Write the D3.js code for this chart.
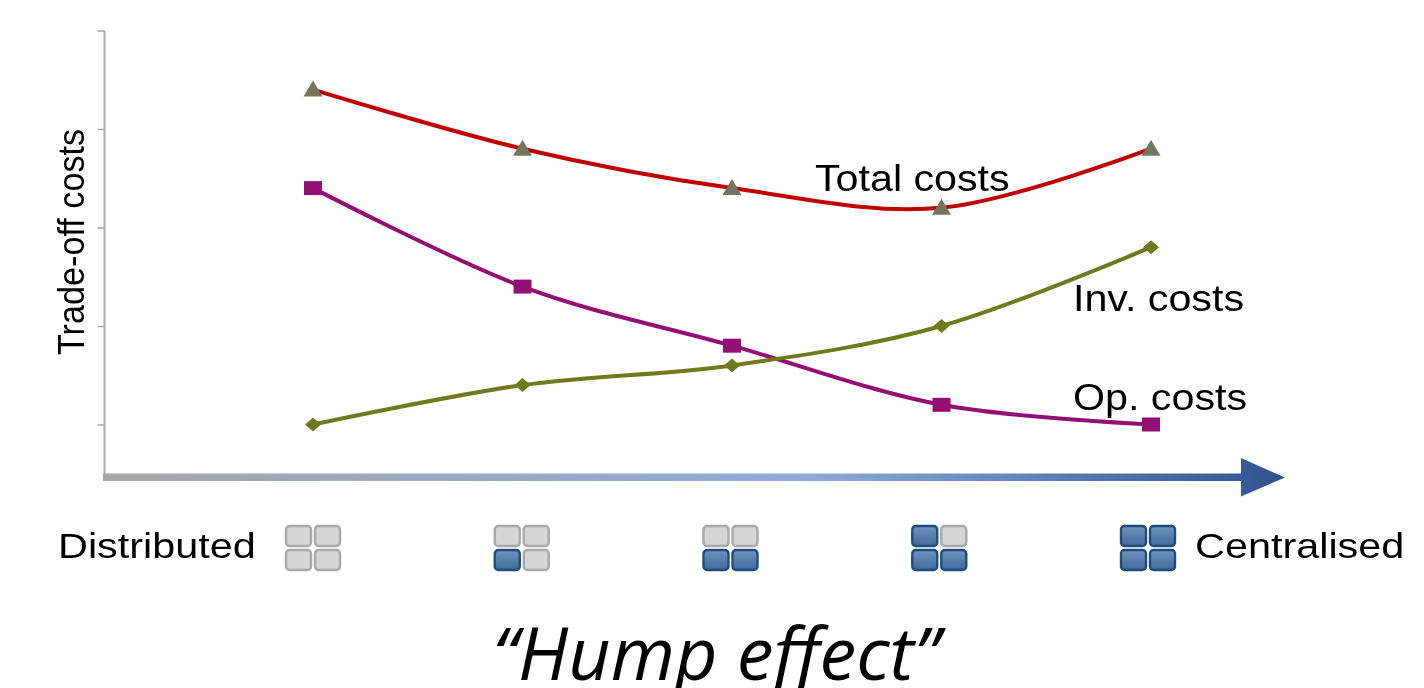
<!DOCTYPE html>
<html><head><meta charset="utf-8">
<script src="https://cdnjs.cloudflare.com/ajax/libs/d3/7.8.5/d3.min.js"></script>
<style>html,body{margin:0;padding:0;background:#fff;overflow:hidden}svg{display:block;filter:blur(0.6px)}
text{font-family:"Liberation Sans",Arial,sans-serif;fill:#000}</style></head><body>
<svg id="c" width="1424" height="688"></svg>
<script>
const steps = [1,2,3,4,5];
const totalCosts = [4.4,3.8,3.4,3.2,3.8];
const opCosts = [3.4,2.4,1.8,1.2,1.0];
const invCosts = [1.0,1.4,1.6,2.0,2.8];
const yTicks = [1,2,3,4,5];
const blueCells = [[],["bl"],["bl","br"],["tl","bl","br"],["tl","tr","bl","br"]];
const endLabels = ["Distributed","Centralised"];
const yTitle = "Trade-off costs";
const chartTitle = "“Hump effect”";

const svg = d3.select("#c");
const x = d3.scaleLinear().domain([1,5]).range([313,1151]);
const xIcon = d3.scaleLinear().domain([1,5]).range([313,1148]);
const y = d3.scaleLinear().domain([1,5]).range([424.5,30.5]);
const defs = svg.append("defs");
const grad = defs.append("linearGradient").attr("id","axisGrad").attr("gradientUnits","userSpaceOnUse")
  .attr("x1",103).attr("x2",1285).attr("y1",0).attr("y2",0);
[[0,"#a6a6a6"],[0.6,"#8eaadb"],[1,"#2f5290"]].forEach(s=>grad.append("stop").attr("offset",s[0]).attr("stop-color",s[1]));
const blue = defs.append("linearGradient").attr("id","blueCell").attr("x1",0).attr("x2",0).attr("y1",0).attr("y2",1);
[[0,"#6f94bd"],[1,"#3f6a9c"]].forEach(s=>blue.append("stop").attr("offset",s[0]).attr("stop-color",s[1]));

// y axis
const axis = svg.append("g").attr("transform","translate(104.5,0)")
  .call(d3.axisLeft(y).tickValues(yTicks).tickSize(7).tickSizeOuter(0).tickFormat(""));
axis.selectAll("line").attr("stroke","#a6a6a6").attr("stroke-width",1.5);
axis.select(".domain").remove();
svg.append("line").attr("x1",104.5).attr("x2",104.5).attr("y1",y(5)).attr("y2",478).attr("stroke","#a6a6a6").attr("stroke-width",2);

// arrow
svg.append("path").attr("d","M103,473.5H1241V458L1285,477.5L1241,496.5V481H103Z").attr("fill","url(#axisGrad)");

// lines
const line = d3.line().x((d,i)=>x(steps[i])).y(d=>y(d)).curve(d3.curveCatmullRom.alpha(0));
const series = [
 {v:totalCosts,c:"#c00000",m:"tri"},
 {v:opCosts,c:"#930f74",m:"sq"},
 {v:invCosts,c:"#6f7a1c",m:"dia"}];
series.forEach(s=>{
  svg.append("path").attr("d",line(s.v)).attr("fill","none").attr("stroke",s.c).attr("stroke-width",4);
});
series.forEach(s=>{
  const g = svg.append("g").selectAll("path").data(s.v).join("path")
    .attr("transform",(d,i)=>`translate(${x(steps[i])},${y(d)})`);
  if(s.m==="tri") g.attr("d","M0,-9L9.5,7H-9.5Z").attr("fill","#74745f");
  if(s.m==="sq") g.attr("d","M-9,-7H9V7H-9Z").attr("fill","#930f74");
  if(s.m==="dia") g.attr("d","M0,-7L8,0L0,7L-8,0Z").attr("fill","#6f7a1c");
});

// labels (wide-stretched as in the picture)
function lab(t,px,py,sx,size){
  svg.append("text").text(t).attr("transform",`translate(${px},${py}) scale(${sx},1)`).attr("font-size",size);
}
lab("Total costs",815,191,1.145,36);
lab("Inv. costs",1073,311,1.145,36);
lab("Op. costs",1073,410,1.145,36);
lab(endLabels[0],58,558,1.15,36);
lab(endLabels[1],1195,558,1.15,36);
svg.append("text").text(yTitle).attr("transform","translate(84,355) rotate(-90) scale(0.95,1.05)").attr("font-size",36);

// server icons
const cellPos = {tl:[0,0],tr:[29,0],bl:[0,24],br:[29,24]};
steps.forEach((s,i)=>{
  const g = svg.append("g").attr("transform",`translate(${xIcon(s)-27},526)`);
  Object.keys(cellPos).forEach(k=>{
    const on = blueCells[i].includes(k);
    g.append("rect").attr("x",cellPos[k][0]).attr("y",cellPos[k][1]).attr("width",25).attr("height",20).attr("rx",3.5)
      .attr("fill",on?"url(#blueCell)":"#d6d6d6").attr("stroke",on?"#1f4e79":"#a9a9a9").attr("stroke-width",2.4);
  });
});

svg.append("text").text(chartTitle).attr("transform","translate(716,680) scale(1.01,1)").attr("text-anchor","middle")
  .attr("font-size",73).attr("font-style","italic").style("font-family","'Open Sans',sans-serif");
</script></body></html>
